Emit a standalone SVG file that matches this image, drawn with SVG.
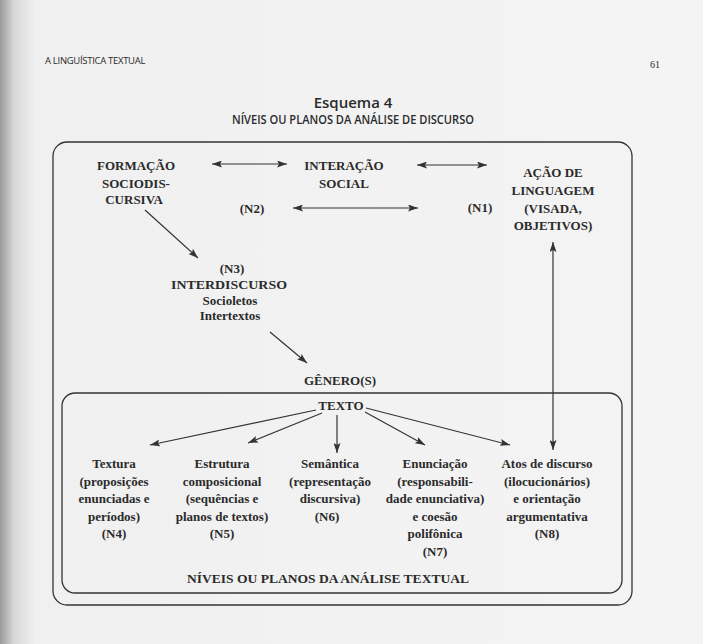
<svg xmlns="http://www.w3.org/2000/svg" width="703" height="644" viewBox="0 0 703 644">
<defs>
<linearGradient id="page" x1="0" y1="0" x2="1" y2="0">
<stop offset="0" stop-color="#9a9a9a"/>
<stop offset="0.02" stop-color="#d8d8d8"/>
<stop offset="0.05" stop-color="#f0f0f0"/>
<stop offset="1" stop-color="#f4f4f4"/>
</linearGradient>
<marker id="ah" viewBox="0 0 10 7" markerWidth="10" markerHeight="7" refX="10" refY="3.5" orient="auto-start-reverse" markerUnits="userSpaceOnUse">
<path d="M0,0 L10,3.5 L0,7 L2,3.5 z" fill="#333"/>
</marker>
<style>
.t{font-family:"Liberation Serif","Times New Roman",serif;font-weight:700;font-size:13px;fill:#2b2b2b;text-anchor:middle}
.s{font-family:"Open Sans","Liberation Sans",sans-serif;fill:#2b2b2b}
.frame{fill:none;stroke:#333;stroke-width:1.3}
.c{fill:none;stroke:#333;stroke-width:1.2;marker-end:url(#ah)}
.d{fill:none;stroke:#333;stroke-width:1.2;marker-end:url(#ah);marker-start:url(#ah)}
</style>
</defs>
<rect width="703" height="644" fill="url(#page)"/>
<g id="header">
<text class="s" x="45" y="64" font-size="9.5" letter-spacing="-0.3">A LINGUÍSTICA TEXTUAL</text>
<text x="650" y="68" font-family="Liberation Serif,serif" font-size="10" fill="#2b2b2b">61</text>
<text class="s" x="353" y="108" font-size="15" font-weight="600" text-anchor="middle">Esquema 4</text>
<text class="s" x="353" y="124" font-size="12.5" font-weight="600" text-anchor="middle" textLength="242" lengthAdjust="spacingAndGlyphs">NÍVEIS OU PLANOS DA ANÁLISE DE DISCURSO</text>
</g>
<g id="frames">
<rect class="frame" x="53" y="142" width="579" height="463" rx="14"/>
<rect class="frame" x="62" y="393" width="560" height="200" rx="13"/>
</g>
<g id="n-formacao">
<text class="t" x="136" y="170">FORMAÇÃO</text>
<text class="t" x="136" y="188">SOCIODIS-</text>
<text class="t" x="134" y="204">CURSIVA</text>
</g>
<g id="n-interacao">
<text class="t" x="344" y="170">INTERAÇÃO</text>
<text class="t" x="344" y="188">SOCIAL</text>
</g>
<g id="n-n2"><text class="t" x="252" y="213">(N2)</text></g>
<g id="n-n1"><text class="t" x="480" y="212">(N1)</text></g>
<g id="n-acao">
<text class="t" x="553" y="177">AÇÃO DE</text>
<text class="t" x="553" y="195">LINGUAGEM</text>
<text class="t" x="553" y="213">(VISADA,</text>
<text class="t" x="553" y="230">OBJETIVOS)</text>
</g>
<g id="n-interdiscurso">
<text class="t" x="232" y="273">(N3)</text>
<text class="t" x="229" y="289" textLength="116" lengthAdjust="spacingAndGlyphs">INTERDISCURSO</text>
<text class="t" x="230" y="305">Socioletos</text>
<text class="t" x="230" y="320">Intertextos</text>
</g>
<g id="n-genero"><text class="t" x="340" y="385">GÊNERO(S)</text></g>
<g id="n-texto"><text class="t" x="341" y="410">TEXTO</text></g>
<g id="n-textura">
<text class="t" x="114" y="468">Textura</text>
<text class="t" x="114" y="486">(proposições</text>
<text class="t" x="114" y="503">enunciadas e</text>
<text class="t" x="114" y="521">períodos)</text>
<text class="t" x="114" y="538">(N4)</text>
</g>
<g id="n-estrutura">
<text class="t" x="222" y="468">Estrutura</text>
<text class="t" x="222" y="486">composicional</text>
<text class="t" x="222" y="503">(sequências e</text>
<text class="t" x="222" y="521">planos de textos)</text>
<text class="t" x="222" y="538">(N5)</text>
</g>
<g id="n-semantica">
<text class="t" x="330" y="468">Semântica</text>
<text class="t" x="330" y="486">(representação</text>
<text class="t" x="330" y="503">discursiva)</text>
<text class="t" x="327" y="521">(N6)</text>
</g>
<g id="n-enunciacao">
<text class="t" x="435" y="468">Enunciação</text>
<text class="t" x="435" y="486">(responsabili-</text>
<text class="t" x="435" y="503">dade enunciativa)</text>
<text class="t" x="435" y="521">e coesão</text>
<text class="t" x="435" y="538">polifônica</text>
<text class="t" x="435" y="556">(N7)</text>
</g>
<g id="n-atos">
<text class="t" x="547" y="468">Atos de discurso</text>
<text class="t" x="547" y="486">(ilocucionários)</text>
<text class="t" x="547" y="503">e orientação</text>
<text class="t" x="547" y="521">argumentativa</text>
<text class="t" x="547" y="538">(N8)</text>
</g>
<g id="n-textual"><text class="t" x="328" y="583" font-size="15" textLength="282" lengthAdjust="spacingAndGlyphs">NÍVEIS OU PLANOS DA ANÁLISE TEXTUAL</text></g>
<g id="connectors">
<line class="d" x1="212" y1="164" x2="287" y2="164"/>
<line class="d" x1="417" y1="165" x2="487" y2="165"/>
<line class="d" x1="293" y1="208" x2="418" y2="208"/>
<line class="c" x1="145" y1="210" x2="198" y2="258"/>
<line class="c" x1="270" y1="332" x2="307" y2="363"/>
<line class="c" x1="316" y1="410" x2="150" y2="445"/>
<line class="c" x1="322" y1="413" x2="248" y2="443"/>
<line class="c" x1="337" y1="415" x2="337" y2="453"/>
<line class="c" x1="365" y1="412" x2="425" y2="445"/>
<line class="c" x1="366" y1="408" x2="510" y2="445"/>
<line class="d" x1="553" y1="242" x2="553" y2="450"/>
</g>
</svg>
